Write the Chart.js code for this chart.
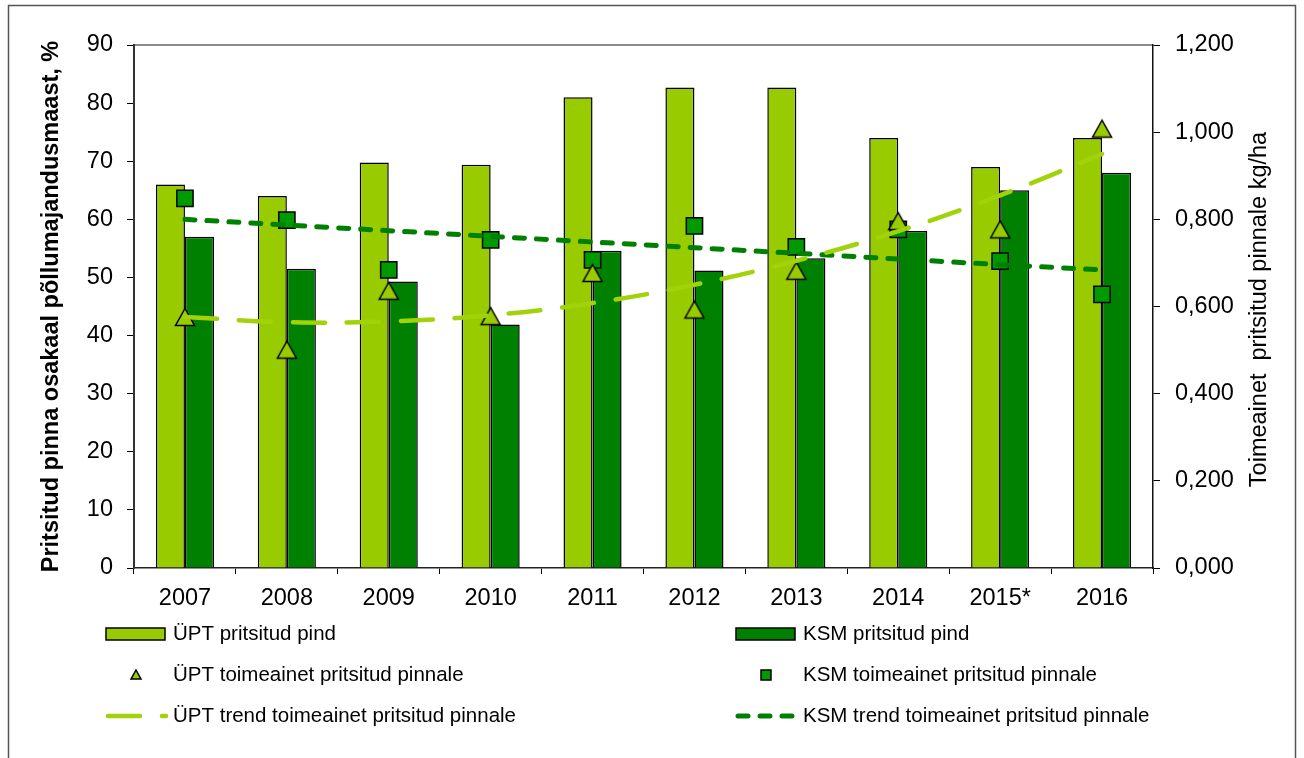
<!DOCTYPE html>
<html>
<head>
<meta charset="utf-8">
<script src="https://cdn.jsdelivr.net/npm/chart.js@4.4.1/dist/chart.umd.min.js"></script>
<style>
  html, body { margin: 0; padding: 0; background: #fff; }
  #wrap { width: 1304px; height: 758px; }
</style>
</head>
<body>
<div id="wrap"><canvas id="chart" width="1304" height="758"></canvas></div>
<script>
// data
let years = ["2007", "2008", "2009", "2010", "2011", "2012", "2013", "2014", "2015*", "2016"];
let uptArea = [66, 64, 69.8, 69.4, 81, 82.7, 82.7, 74, 69, 74];
let ksmArea = [57, 51.5, 49.3, 41.9, 54.6, 51.2, 53.3, 58, 65, 68];
let uptDose = [0.576, 0.501, 0.636, 0.578, 0.677, 0.593, 0.682, 0.796, 0.777, 1.008];
let ksmDose = [0.848, 0.798, 0.684, 0.753, 0.707, 0.785, 0.737, 0.777, 0.704, 0.628];
let uptTrend = [0.576, 0.564, 0.566, 0.580, 0.608, 0.650, 0.705, 0.773, 0.855, 0.950];
let ksmTrend = [0.800, 0.787, 0.774, 0.761, 0.748, 0.735, 0.722, 0.709, 0.696, 0.684];
let leftTicks = [0, 90, 10];
let rightTicks = [0, 1.2, 0.2];

// general variables
let fontFamily = "'Liberation Sans', Arial, sans-serif";
let colorLight = "#99cc00";
let colorDark = "#008000";
let colorSquare = "#009900";
let rightTitle = "Toimeainet  pritsitud pinnale kg/ha";

// triangle marker centred on its box (like the spreadsheet one)
let triangle = document.createElement("canvas");
triangle.width = 24;
triangle.height = 22;
{
  let c = triangle.getContext("2d");
  c.beginPath();
  c.moveTo(12, 2.5);
  c.lineTo(21.5, 19.5);
  c.lineTo(2.5, 19.5);
  c.closePath();
  c.fillStyle = colorLight;
  c.fill();
  c.lineWidth = 1.5;
  c.strokeStyle = "#000";
  c.stroke();
}

// ! legend drawn as two columns under the plot
let legendGrid = {
  id: "legendGrid",
  afterDraw(chart) {
    let ctx = chart.ctx;
    let area = chart.chartArea;
    let ds = chart.data.datasets;
    let cols = [area.left - 28, area.left + 602];
    let rows = [area.bottom + 66, area.bottom + 107, area.bottom + 148];
    ctx.save();
    ds.forEach((d, i) => {
      let x = cols[i % 2];
      let y = rows[Math.floor(i / 2)];
      let cx = x + 30;
      ctx.setLineDash([]);
      if (d.legendKind === "bar") {
        ctx.fillStyle = d.backgroundColor;
        ctx.strokeStyle = "#000";
        ctx.lineWidth = 1.5;
        ctx.fillRect(x, y - 6, 59, 12);
        ctx.strokeRect(x, y - 6, 59, 12);
      } else if (d.legendKind === "point") {
        ctx.fillStyle = d.legendColor;
        ctx.strokeStyle = "#000";
        ctx.lineWidth = 1.5;
        ctx.beginPath();
        if (d.pointStyle === "rect") {
          ctx.rect(cx - 5, y - 5, 10, 10);
        } else {
          ctx.moveTo(cx, y - 5);
          ctx.lineTo(cx + 5, y + 4);
          ctx.lineTo(cx - 5, y + 4);
          ctx.closePath();
        }
        ctx.fill();
        ctx.stroke();
      } else {
        ctx.strokeStyle = d.borderColor;
        ctx.lineWidth = d.borderWidth;
        ctx.lineCap = "round";
        ctx.setLineDash(d.borderDash);
        ctx.beginPath();
        ctx.moveTo(x + 2, y);
        ctx.lineTo(x + 60, y);
        ctx.stroke();
      }
      ctx.setLineDash([]);
      ctx.fillStyle = "#000";
      ctx.font = "20.5px " + fontFamily;
      ctx.textBaseline = "middle";
      ctx.textAlign = "left";
      ctx.fillText(d.label, x + 67, y);
    });

    // right axis title reads bottom to top
    let y1 = chart.scales.y1;
    ctx.translate(y1.right - 44, (area.top + area.bottom) / 2 + 3);
    ctx.rotate(-Math.PI / 2);
    ctx.font = "23.5px " + fontFamily;
    ctx.textAlign = "center";
    ctx.textBaseline = "middle";
    ctx.fillText(rightTitle, 0, 0);
    ctx.restore();
  },
};

// ! frame and top edge of plot area
let frame = {
  id: "frame",
  beforeDraw(chart) {
    let ctx = chart.ctx;
    let area = chart.chartArea;
    ctx.save();
    ctx.fillStyle = "#fff";
    ctx.fillRect(0, 0, chart.width, chart.height);
    ctx.strokeStyle = "#555";
    ctx.lineWidth = 1.5;
    ctx.beginPath();
    ctx.moveTo(8.5, chart.height);
    ctx.lineTo(8.5, 5.5);
    ctx.lineTo(1295.5, 5.5);
    ctx.lineTo(1295.5, chart.height);
    ctx.stroke();
    ctx.strokeStyle = "#8c8c8c";
    ctx.lineWidth = 2;
    ctx.beginPath();
    ctx.moveTo(area.left, area.top);
    ctx.lineTo(area.right, area.top);
    ctx.stroke();
    ctx.restore();
  },
};

let tickFont = { size: 23.5, family: fontFamily };

new Chart(document.getElementById("chart"), {
  type: "bar",
  plugins: [frame, legendGrid],
  options: {
    responsive: false,
    animation: false,
    layout: {
      padding: { top: 45, bottom: 140, left: 0, right: 0 },
    },
    plugins: {
      legend: { display: false },
      tooltip: { enabled: false },
    },
    scales: {
      x: {
        offset: true,
        afterFit(scale) { scale.height = 50; },
        grid: {
          offset: true,
          drawOnChartArea: false,
          drawTicks: true,
          tickLength: 6,
          color: "#000",
        },
        border: { display: true, color: "#222", width: 1.5 },
        ticks: { font: tickFont, color: "#000", padding: 10, maxRotation: 0 },
      },
      y: {
        position: "left",
        min: leftTicks[0],
        max: leftTicks[1],
        afterFit(scale) { scale.width = 134; },
        grid: {
          drawOnChartArea: false,
          tickLength: 7,
          color: "#000",
        },
        border: { display: true, color: "#333", width: 2 },
        ticks: { stepSize: leftTicks[2], font: tickFont, color: "#000", padding: 14 },
        title: {
          display: true,
          text: "Pritsitud pinna osakaal põllumajandusmaast, %",
          font: { size: 23.5, weight: "bold", family: fontFamily },
          color: "#000",
          padding: { top: 37, bottom: 0 },
        },
      },
      y1: {
        position: "right",
        min: rightTicks[0],
        max: rightTicks[1],
        afterFit(scale) { scale.width = 151; },
        grid: {
          drawOnChartArea: false,
          tickLength: 7,
          color: "#000",
        },
        border: { display: true, color: "#111", width: 1.5 },
        ticks: {
          stepSize: rightTicks[2],
          font: tickFont,
          color: "#000",
          padding: 15,
          callback: (v) => v.toFixed(3).replace(".", ","),
        },
      },
    },
  },

  data: {
    labels: years,
    datasets: [
      {
        label: "ÜPT pritsitud pind",
        legendKind: "bar",
        data: uptArea,
        backgroundColor: colorLight,
        borderColor: "#000",
        borderWidth: 1.5,
        categoryPercentage: 0.57,
        barPercentage: 1.0,
        yAxisID: "y",
        order: 3,
      },
      {
        label: "KSM pritsitud pind",
        legendKind: "bar",
        data: ksmArea,
        backgroundColor: colorDark,
        borderColor: "#000",
        borderWidth: 1.5,
        categoryPercentage: 0.57,
        barPercentage: 1.0,
        yAxisID: "y",
        order: 3,
      },
      {
        label: "ÜPT toimeainet pritsitud pinnale",
        legendKind: "point",
        legendColor: colorLight,
        type: "line",
        data: uptDose,
        showLine: false,
        pointStyle: triangle,
        pointRadius: 11,
        yAxisID: "y1",
        order: 2,
      },
      {
        label: "KSM toimeainet pritsitud pinnale",
        legendKind: "point",
        legendColor: colorSquare,
        type: "line",
        data: ksmDose,
        showLine: false,
        pointStyle: "rect",
        pointRadius: 11.5,
        pointBorderWidth: 1.5,
        pointBackgroundColor: colorSquare,
        pointBorderColor: "#000",
        yAxisID: "y1",
        order: 2,
      },
      {
        label: "ÜPT trend toimeainet pritsitud pinnale",
        legendKind: "line",
        type: "line",
        data: uptTrend,
        borderColor: "#a2d20a",
        borderWidth: 4.5,
        borderDash: [32, 22],
        borderCapStyle: "round",
        tension: 0.4,
        pointRadius: 0,
        fill: false,
        yAxisID: "y1",
        order: 1,
      },
      {
        label: "KSM trend toimeainet pritsitud pinnale",
        legendKind: "line",
        type: "line",
        data: ksmTrend,
        borderColor: colorDark,
        borderWidth: 5,
        borderDash: [10, 12],
        borderCapStyle: "round",
        pointRadius: 0,
        fill: false,
        yAxisID: "y1",
        order: 1,
      },
    ],
  },
});
</script>
</body>
</html>
